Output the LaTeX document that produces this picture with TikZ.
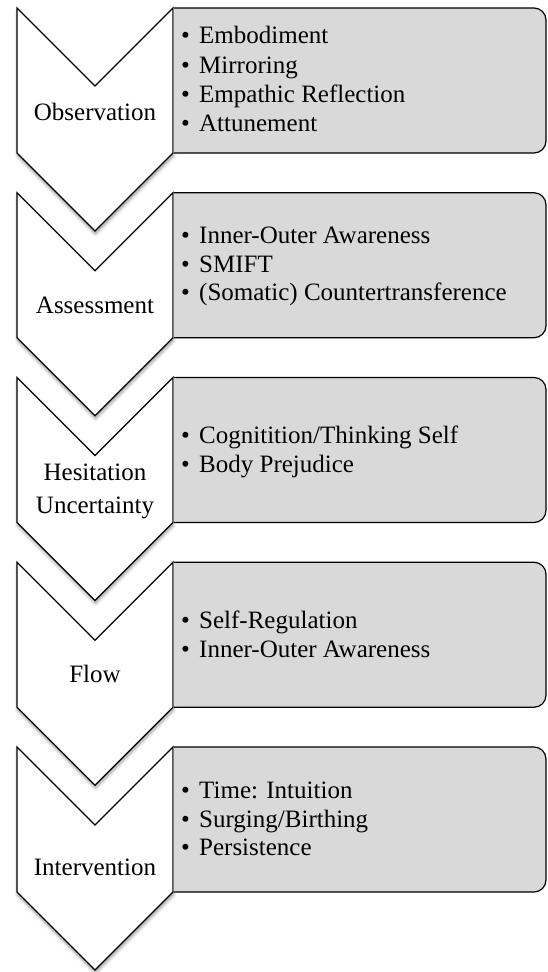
\documentclass[tikz,border=0pt]{standalone}
\usepackage{fontspec}
\setmainfont{Liberation Serif}
\usetikzlibrary{shadows.blur}
\definecolor{panelgray}{HTML}{D9D9D9}
\tikzset{
  chev/.style={draw=black, line width=1.2pt, fill=white, line join=miter,
    blur shadow={shadow xshift=0.5pt, shadow yshift=-3pt,
                 shadow blur radius=3pt, shadow opacity=40}},
  panel/.style={draw=black, line width=1.2pt, fill=panelgray, rounded corners=12pt},
  stagelabel/.style={font=\fontsize{25}{33}\selectfont, inner sep=0pt, anchor=base},
  item/.style={font=\fontsize{25}{30}\selectfont, inner sep=0pt, anchor=base west},
}
\newcommand\bul{\makebox[18pt][l]{\textbullet}}

\begin{document}
\begin{tikzpicture}[x=1pt, y=-1pt]
\useasboundingbox (0,0) rectangle (547,972);

% chevrons with their soft shadows
\foreach \t in {8,192.75,377.5,562.25,747} {
  \draw[chev] (17,\t) -- (95,\t+78) -- (173,\t) -- (173,\t+145)
              -- (95,\t+223) -- (17,\t+145) -- cycle;
}
% grey panels laid over the shadows, butting onto each chevron's right side
\foreach \t in {8,192.75,377.5,562.25,747} {
  \draw[panel] (173.6,\t) -- (546,\t) -- (546,\t+145) -- (173.6,\t+145);
}

% stage names
\node[stagelabel] (obs)  at (95,120) {Observation};
\node[stagelabel] (ass)  at (95,313) {Assessment};
\node[stagelabel] (hesA) at (95,480) {Hesitation};
\node[stagelabel] (hesB) at (95,513) {Uncertainty};
\node[stagelabel] (flow) at (95,682) {Flow};
\node[stagelabel] (intv) at (95,875) {Intervention};

% bullet items
\node[item] (obsA) at (181,43)  {\bul Embodiment};
\node[item] (obsB) at (181,73)  {\bul Mirroring};
\node[item] (obsC) at (181,102) {\bul Empathic Reflection};
\node[item] (obsD) at (181,131) {\bul Attunement};

\node[item] (assA) at (181,243) {\bul Inner-Outer Awareness};
\node[item] (assB) at (181,272) {\bul SMIFT};
\node[item] (assC) at (181,300) {\bul (Somatic) Countertransference};

\node[item] (hesC) at (181,443) {\bul Cognitition/Thinking Self};
\node[item] (hesD) at (181,472) {\bul Body Prejudice};

\node[item] (flowA) at (181,628) {\bul Self-Regulation};
\node[item] (flowB) at (181,657) {\bul Inner-Outer Awareness};

\node[item] (intvA) at (181,798) {\bul Time: Intuition};
\node[item] (intvB) at (181,827) {\bul Surging/Birthing};
\node[item] (intvC) at (181,855) {\bul Persistence};
\end{tikzpicture}
\end{document}
